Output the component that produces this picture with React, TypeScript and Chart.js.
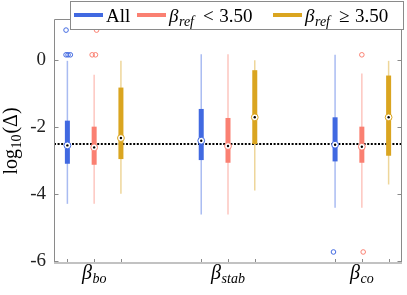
import React, { useEffect, useRef } from 'react';
import { Chart, registerables } from 'chart.js';
Chart.register(...registerables);

// ---- data ----
const groupPositions = [1, 2, 3];
const groupSubscripts = ['bo', 'stab', 'co'];
const seriesLabels = ['All', '<', '≥'];
const seriesThreshold = '3.50';
const seriesColors = ['#4169E1', '#FA8072', '#DAA520'];
const seriesOffsets = [-0.2, 0, 0.2];

// All
const allLow = [-4.30, -4.62, -4.42];
const allQ1 = [-3.10, -2.99, -3.03];
const allMedian = [-2.55, -2.41, -2.53];
const allQ3 = [-1.81, -1.46, -1.71];
const allHigh = [-0.02, 0.18, 0.16];
// beta_ref < 3.50
const lowLow = [-4.30, -4.62, -4.42];
const lowQ1 = [-3.13, -3.07, -3.07];
const lowMedian = [-2.61, -2.57, -2.59];
const lowQ3 = [-1.99, -1.73, -1.99];
const lowHigh = [-0.44, 0.18, -0.40];
// beta_ref >= 3.50
const highLow = [-4.00, -3.90, -3.72];
const highQ1 = [-2.96, -2.51, -2.86];
const highMedian = [-2.33, -1.71, -1.71];
const highQ3 = [-0.82, -0.30, -0.46];
const highHigh = [-0.02, 0.00, -0.02];

// outliers
const allOutGroup = [1, 1, 1, 1, 3];
const allOutJitter = [-0.01, -0.01, 0.005, 0.022, -0.012];
const allOutValue = [0.9, 0.16, 0.16, 0.16, -5.74];
const lowOutGroup = [1, 1, 1, 3, 3];
const lowOutJitter = [0.018, -0.015, 0.01, 0.0, 0.01];
const lowOutValue = [0.9, 0.16, 0.16, 0.16, -5.74];
const highOutGroup: number[] = [];
const highOutJitter: number[] = [];
const highOutValue: number[] = [];

const yTicks = [-6, -4, -2, 0];
const thresholdLine = -2.5;
const Y_MIN = -6.07, Y_MAX = 1.22, X_MIN = 0.7, X_MAX = 3.3;

const seriesStats = [
  { low: allLow, q1: allQ1, med: allMedian, q3: allQ3, high: allHigh },
  { low: lowLow, q1: lowQ1, med: lowMedian, q3: lowQ3, high: lowHigh },
  { low: highLow, q1: highQ1, med: highMedian, q3: highQ3, high: highHigh },
];
const seriesOutliers = [
  { g: allOutGroup, j: allOutJitter, v: allOutValue },
  { g: lowOutGroup, j: lowOutJitter, v: lowOutValue },
  { g: highOutGroup, j: highOutJitter, v: highOutValue },
];

const FONT = '"Liberation Serif", "DejaVu Serif", serif';

function rgba(hex: string, a: number) {
  const n = parseInt(hex.slice(1), 16);
  return `rgba(${(n >> 16) & 255},${(n >> 8) & 255},${n & 255},${a})`;
}

type Part = { text: string; font: string; dy: number; gap: number };
function measureParts(ctx: CanvasRenderingContext2D, parts: Part[]) {
  let w = 0;
  for (const p of parts) { ctx.font = p.font; w += p.gap + ctx.measureText(p.text).width; }
  return w;
}
function drawParts(ctx: CanvasRenderingContext2D, parts: Part[], x: number, baseline: number) {
  let cx = x;
  ctx.textAlign = 'left';
  ctx.textBaseline = 'alphabetic';
  for (const p of parts) {
    cx += p.gap;
    ctx.font = p.font;
    ctx.fillText(p.text, cx, baseline + p.dy);
    cx += ctx.measureText(p.text).width;
  }
  return cx;
}

const boxPlugin = {
  id: 'boxes',
  beforeDatasetsDraw(chart: any) {
    const { ctx, chartArea, scales } = chart;
    const x = scales.x, y = scales.y;
    ctx.save();
    // threshold dotted line
    const ty = Math.round(y.getPixelForValue(thresholdLine));
    ctx.strokeStyle = '#000';
    ctx.lineWidth = 2;
    ctx.setLineDash([2, 1.6]);
    ctx.beginPath();
    ctx.moveTo(chartArea.left, ty);
    ctx.lineTo(chartArea.right, ty);
    ctx.stroke();
    ctx.setLineDash([]);
    seriesStats.forEach((s, si) => {
      const col = seriesColors[si];
      groupPositions.forEach((g, gi) => {
        const px = x.getPixelForValue(g + seriesOffsets[si]);
        // whisker
        ctx.strokeStyle = rgba(col, 0.45);
        ctx.lineWidth = 1.5;
        ctx.beginPath();
        ctx.moveTo(px, y.getPixelForValue(s.low[gi]));
        ctx.lineTo(px, y.getPixelForValue(s.high[gi]));
        ctx.stroke();
        // box
        const top = y.getPixelForValue(s.q3[gi]);
        const bot = y.getPixelForValue(s.q1[gi]);
        ctx.fillStyle = col;
        ctx.fillRect(px - 2.5, top, 5, bot - top);
      });
    });
    // medians
    seriesStats.forEach((s, si) => {
      const col = seriesColors[si];
      groupPositions.forEach((g, gi) => {
        const px = x.getPixelForValue(g + seriesOffsets[si]);
        const py = y.getPixelForValue(s.med[gi]);
        ctx.beginPath();
        ctx.arc(px, py, 3.4, 0, Math.PI * 2);
        ctx.fillStyle = '#fff';
        ctx.fill();
        ctx.strokeStyle = col;
        ctx.lineWidth = 1;
        ctx.stroke();
        ctx.beginPath();
        ctx.arc(px, py, 1.2, 0, Math.PI * 2);
        ctx.fillStyle = '#000';
        ctx.fill();
      });
    });
    ctx.restore();
  },
  afterDraw(chart: any) {
    const { ctx, chartArea, scales } = chart;
    const x = scales.x, y = scales.y;
    const L = Math.round(chartArea.left) + 0.5, R = Math.round(chartArea.right) - 0.5;
    const T = Math.round(chartArea.top) + 0.5, B = Math.round(chartArea.bottom);
    ctx.save();
    // frame
    ctx.strokeStyle = '#8a8a8a';
    ctx.lineWidth = 1;
    ctx.beginPath();
    ctx.moveTo(L, B); ctx.lineTo(L, T); ctx.lineTo(R, T); ctx.lineTo(R, B);
    ctx.stroke();
    // y ticks inside, both sides
    yTicks.forEach((v) => {
      const py = Math.round(y.getPixelForValue(v)) + 0.5;
      ctx.beginPath();
      ctx.moveTo(L, py); ctx.lineTo(L + 4, py);
      ctx.moveTo(R, py); ctx.lineTo(R - 4, py);
      ctx.stroke();
    });
    // x ticks at each box position
    groupPositions.forEach((g) => {
      seriesOffsets.forEach((o) => {
        const px = Math.round(x.getPixelForValue(g + o)) + 0.5;
        ctx.beginPath();
        ctx.moveTo(px, B); ctx.lineTo(px, B - 4);
        ctx.stroke();
      });
    });
    // bottom axis line
    ctx.strokeStyle = '#c2c2c2';
    ctx.lineWidth = 2;
    ctx.beginPath();
    ctx.moveTo(L - 0.5, B); ctx.lineTo(R + 0.5, B);
    ctx.stroke();

    ctx.fillStyle = '#000';
    // x labels
    groupPositions.forEach((g, gi) => {
      const parts: Part[] = [
        { text: 'β', font: `italic 20px ${FONT}`, dy: 0, gap: 0 },
        { text: groupSubscripts[gi], font: `italic 14px ${FONT}`, dy: 4, gap: 0.5 },
      ];
      const w = measureParts(ctx, parts);
      drawParts(ctx, parts, x.getPixelForValue(g) - w / 2, 279);
    });

    // y label
    const yl: Part[] = [
      { text: 'log', font: `20px ${FONT}`, dy: 0, gap: 0 },
      { text: '10', font: `14px ${FONT}`, dy: 4, gap: 0.5 },
      { text: '(Δ)', font: `20px ${FONT}`, dy: 0, gap: 1 },
    ];
    ctx.save();
    ctx.translate(17, 141);
    ctx.rotate(-Math.PI / 2);
    const yw = measureParts(ctx, yl);
    drawParts(ctx, yl, -yw / 2, 0);
    ctx.restore();

    // legend
    const lx0 = 70.5, ly0 = 1.5, lx1 = 403.5, ly1 = 29.5;
    ctx.fillStyle = '#fff';
    ctx.fillRect(lx0, ly0, lx1 - lx0, ly1 - ly0);
    ctx.strokeStyle = '#8a8a8a';
    ctx.lineWidth = 1;
    ctx.strokeRect(lx0, ly0, lx1 - lx0, ly1 - ly0);
    const itemStarts = [74, 137, 273];
    seriesLabels.forEach((lab, si) => {
      const sx = itemStarts[si];
      ctx.strokeStyle = seriesColors[si];
      ctx.lineWidth = 4;
      ctx.beginPath();
      ctx.moveTo(sx, 15); ctx.lineTo(sx + 29, 15);
      ctx.stroke();
      ctx.fillStyle = '#000';
      let parts: Part[];
      if (si === 0) {
        parts = [{ text: lab, font: `19px ${FONT}`, dy: 0, gap: 0 }];
      } else {
        parts = [
          { text: 'β', font: `italic 19px ${FONT}`, dy: 0, gap: 0 },
          { text: 'ref', font: `italic 14px ${FONT}`, dy: 4, gap: 0.5 },
          { text: lab, font: `19px ${FONT}`, dy: 0, gap: 9 },
          { text: seriesThreshold, font: `19px ${FONT}`, dy: 0, gap: 5.5 },
        ];
      }
      drawParts(ctx, parts, sx + 32, 21.5);
    });
    ctx.restore();
  },
};

export default function App() {
  const ref = useRef<HTMLCanvasElement>(null);
  useEffect(() => {
    const datasets = seriesOutliers.map((o, si) => ({
      label: 'outliers' + si,
      data: o.v.map((v, i) => ({ x: o.g[i] + seriesOffsets[si] + o.j[i], y: v })),
      pointRadius: 2.3,
      pointBorderWidth: 1,
      borderColor: seriesColors[si],
      backgroundColor: 'rgba(255,255,255,0)',
      pointStyle: 'circle',
    }));
    const chart = new Chart(ref.current!, {
      type: 'scatter',
      data: { datasets },
      options: {
        animation: false,
        responsive: false,
        devicePixelRatio: 1,
        layout: { padding: { top: 18, right: 4, left: 0, bottom: 0 } },
        plugins: { legend: { display: false }, tooltip: { enabled: false } },
        scales: {
          x: {
            type: 'linear', min: X_MIN, max: X_MAX,
            grid: { display: false, drawTicks: false }, border: { display: false },
            ticks: { display: false },
            afterFit: (s: any) => { s.height = 32; },
          },
          y: {
            type: 'linear', min: Y_MIN, max: Y_MAX,
            grid: { display: false, drawTicks: false }, border: { display: false },
            ticks: {
              font: { family: FONT, size: 19 }, color: '#222', padding: 8,
              callback: (v: any) => String(v),
            },
            afterBuildTicks: (s: any) => { s.ticks = yTicks.map((v) => ({ value: v })); },
            afterFit: (s: any) => { s.width = 54; },
          },
        },
      } as any,
      plugins: [boxPlugin],
    });
    return () => chart.destroy();
  }, []);
  return (
    <div style={{ position: 'fixed', left: 0, top: 0, width: 407, height: 295, background: '#fff' }}>
      <canvas ref={ref} width={407} height={295} style={{ display: 'block', width: 407, height: 295 }} />
    </div>
  );
}
